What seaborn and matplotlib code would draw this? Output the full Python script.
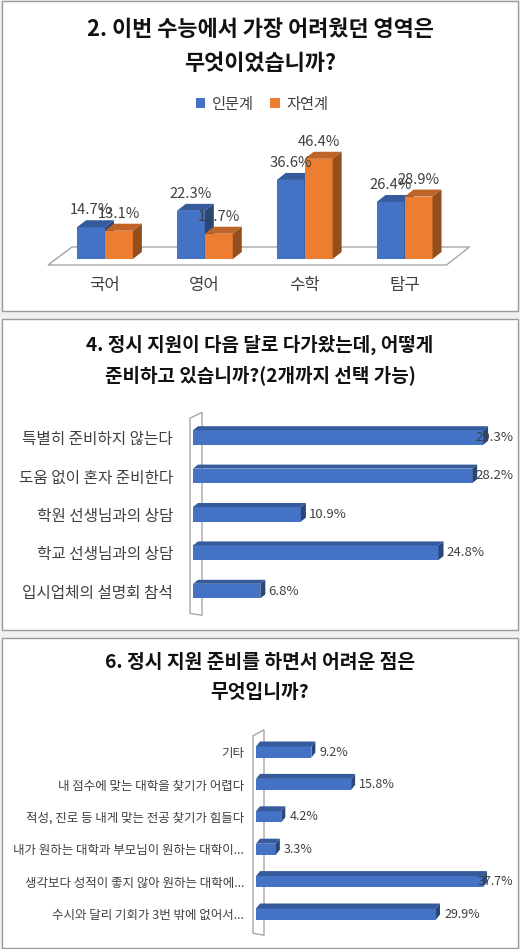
import numpy as np
import pandas as pd
import matplotlib.pyplot as plt
import seaborn as sns
from matplotlib.patches import Polygon, Rectangle
from matplotlib.transforms import IdentityTransform
from matplotlib.colors import to_rgb

# ---- data ----
# Q2: hardest section
subjects = ["국어", "영어", "수학", "탐구"]
tracks = ["인문계", "자연계"]
humanities_pct = [14.7, 22.3, 36.6, 26.4]
science_pct = [13.1, 11.7, 46.4, 28.9]

# Q4: how are you preparing
prep_options = ["특별히 준비하지 않는다", "도움 없이 혼자 준비한다", "학원 선생님과의 상담",
                "학교 선생님과의 상담", "입시업체의 설명회 참석"]
prep_pct = [29.3, 28.2, 10.9, 24.8, 6.8]

# Q6: what is hard
hard_options = ["기타", "내 점수에 맞는 대학을 찾기가 어렵다", "적성, 진로 등 내게 맞는 전공 찾기가 힘들다",
                "내가 원하는 대학과 부모님이 원하는 대학이...", "생각보다 성적이 좋지 않아 원하는 대학에...",
                "수시와 달리 기회가 3번 밖에 없어서..."]
hard_pct = [9.2, 15.8, 4.2, 3.3, 37.7, 29.9]

BLUE = "#4472C4"
ORANGE = "#ED7D31"
TEXT = "#404040"
EDGE = "#a6a6a6"

W, H = 520, 949

sns.set_theme(style="white")
plt.rcParams['font.family'] = ['Noto Sans CJK KR', 'DejaVu Sans']


def px_box(left, top, width, height):
    # pixel box (from top-left) -> figure fraction
    return [left / W, 1 - (top + height) / H, width / W, height / H]


def shade(c, f):
    return tuple(np.array(to_rgb(c)) * f)


def add_poly(ax, pts, color, z, edge=None):
    ax.add_patch(Polygon(pts, closed=True, facecolor=color, edgecolor=edge or 'none',
                         linewidth=1, transform=IdentityTransform(), clip_on=False, zorder=z))


def add_depth(ax, bars, dx, dy, color, z):
    # fake 3d: top face + right face, in display pixels
    for p in bars:
        (x0, y0), (x1, y1) = ax.transData.transform(
            [(p.get_x(), p.get_y()), (p.get_x() + p.get_width(), p.get_y() + p.get_height())])
        xl, xr = sorted([x0, x1])
        yb, yt = sorted([y0, y1])
        add_poly(ax, [(xl, yt), (xr, yt), (xr + dx, yt + dy), (xl + dx, yt + dy)], shade(color, 0.8), z)
        add_poly(ax, [(xr, yb), (xr + dx, yb + dy), (xr + dx, yt + dy), (xr, yt)], shade(color, 0.62), z)


def add_wall(ax, dx, dy_top, d_bot_front, d_bot_back):
    bb = ax.get_window_extent()
    L, T, B = bb.x0, bb.y1, bb.y0
    pts = [(L - 3, T), (L - 3 + dx, T + dy_top), (L - 3 + dx, B + d_bot_back), (L - 3, B - d_bot_front)]
    add_poly(ax, pts, 'white', 0.5, edge=EDGE)


fig = plt.figure(figsize=(W / 100, H / 100), dpi=100, facecolor="#f0f0f0")

# panel frames
for top, height in [(0.5, 310.5), (319, 311), (637.5, 310.5)]:
    fig.add_artist(Rectangle((1.5 / W, 1 - (top + height) / H), 516 / W, height / H,
                             transform=fig.transFigure, facecolor='white', edgecolor='#9a9a9a',
                             linewidth=1, zorder=-5))

# titles
titles = [("2. 이번 수능에서 가장 어려웠던 영역은", 30, 15.8), ("무엇이었습니까?", 63, 15.8),
          ("4. 정시 지원이 다음 달로 다가왔는데, 어떻게", 345, 13.7), ("준비하고 있습니까?(2개까지 선택 가능)", 375, 13.7),
          ("6. 정시 지원 준비를 하면서 어려운 점은", 663, 13.9), ("무엇입니까?", 693, 13.9)]
for txt, y, fs in titles:
    fig.text(0.5, 1 - y / H, txt, ha='center', va='center', fontsize=fs, fontweight='bold', color='#111111')

# ---------- chart 1: grouped 3d-ish columns ----------
df1 = pd.DataFrame({
    "subject": subjects * 2,
    "track": [tracks[0]] * len(subjects) + [tracks[1]] * len(subjects),
    "pct": humanities_pct + science_pct,
})
ax1 = fig.add_axes(px_box(55, 151, 399.5, 108))
sns.barplot(data=df1, x="subject", y="pct", hue="track", palette=[BLUE, ORANGE],
            width=0.56, saturation=1, ax=ax1, linewidth=0)
ax1.set_ylim(0, 50)
ax1.set_xlim(-0.5, 3.5)
ax1.set_facecolor('none')
ax1.set_xlabel("")
ax1.set_ylabel("")
ax1.set_yticks([])
sns.despine(ax=ax1, left=True, bottom=True)
ax1.tick_params(axis='x', length=0, pad=13, labelsize=12, labelcolor=TEXT)

# floor
bb = ax1.get_window_extent()
add_poly(ax1, [(bb.x0 - 7, bb.y0 - 6), (bb.x1 - 8, bb.y0 - 6), (bb.x1 + 15, bb.y0 + 12),
               (bb.x0 + 17, bb.y0 + 12)], 'white', 0.5, edge=EDGE)

for h, (cont, col) in enumerate(zip(ax1.containers, [BLUE, ORANGE])):
    for p in cont:
        p.set_zorder(2 + h)
    add_depth(ax1, cont, 9, 7, col, 2.5 + h)
    for p in cont:
        ax1.annotate(f"{p.get_height():.1f}%", xy=(p.get_x() + p.get_width() / 2, p.get_height()),
                     xytext=(0, 12.2), textcoords='offset points', ha='center', va='center',
                     fontsize=10.6, color=TEXT, zorder=6)

sns.move_legend(ax1, "center", bbox_to_anchor=(262 / W, 1 - 104 / H), bbox_transform=fig.transFigure,
                ncol=2, title=None, frameon=False, fontsize=11, handlelength=0.65, handleheight=0.65,
                handletextpad=0.4, columnspacing=1.1)
for t in ax1.get_legend().get_texts():
    t.set_color(TEXT)

# ---------- chart 2 & 3: horizontal 3d-ish bars ----------
labels_to_clamp = []


def hbar_panel(box, cats, vals, xmax, bar_w, dx, dy, wall_dx, tick_fs, val_fs, pad):
    ax = fig.add_axes(px_box(*box))
    d = pd.DataFrame({"option": cats, "pct": vals})
    sns.barplot(data=d, y="option", x="pct", color=BLUE, saturation=1, width=bar_w,
                orient='h', ax=ax, linewidth=0)
    ax.set_xlim(0, xmax)
    ax.set_ylim(len(cats) - 0.5, -0.5)
    ax.set_facecolor('none')
    ax.set_xlabel("")
    ax.set_ylabel("")
    ax.set_xticks([])
    sns.despine(ax=ax, left=True, bottom=True)
    ax.tick_params(axis='y', length=0, pad=pad, labelsize=tick_fs, labelcolor=TEXT)
    add_wall(ax, wall_dx, 6, 3, -5)
    bars = ax.containers[0]
    for p in bars:
        p.set_zorder(2)
    add_depth(ax, bars, dx, dy, BLUE, 2.5)
    for p in bars:
        t = ax.annotate(f"{p.get_width():.1f}%", xy=(p.get_width(), p.get_y() + p.get_height() / 2),
                        xytext=(5.8, 0), textcoords='offset points', ha='left', va='center',
                        fontsize=val_fs, color=TEXT, zorder=6)
        labels_to_clamp.append(t)
    return ax


ax2 = hbar_panel((193, 418.3, 297, 192), prep_options, prep_pct, 30, 0.38, 5, 4, 12, 11.3, 9.5, 14.4)
ax3 = hbar_panel((256, 735.8, 240.8, 194.4), hard_options, hard_pct, 40, 0.34, 4, 5, 11, 9.0, 9, 8.6)

# keep value labels inside the chart frame like excel does
fig.canvas.draw()
r = fig.canvas.get_renderer()
for t in labels_to_clamp:
    ext = t.get_window_extent(r)
    if ext.x1 > 513:
        xo, yo = t.xyann
        t.xyann = (xo - (ext.x1 - 513) * 72 / 100, yo)

fig.savefig("out.png", dpi=100, facecolor=fig.get_facecolor())
